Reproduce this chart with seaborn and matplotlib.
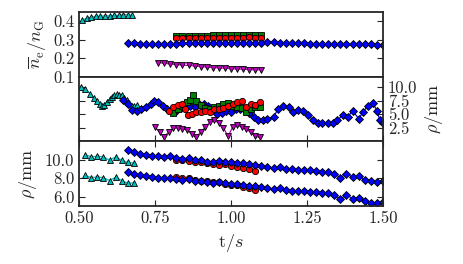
import matplotlib
matplotlib.use("Agg")
import matplotlib.pyplot as plt
from matplotlib.ticker import FormatStrFormatter
import seaborn as sns

sns.set_style("ticks", {"xtick.direction": "in", "ytick.direction": "in"})
plt.rcParams["font.family"] = "serif"
plt.rcParams["font.serif"] = ["cmr10"]
plt.rcParams["mathtext.fontset"] = "cm"
plt.rcParams["axes.formatter.use_mathtext"] = True
plt.rcParams["axes.linewidth"] = 1.3

# ---- panel 1: density n_e / n_G ----
t_teal1 = [0.51, 0.525, 0.54, 0.555, 0.57, 0.585, 0.60, 0.615, 0.63, 0.645, 0.66, 0.675]
n_teal1 = [0.404, 0.416, 0.422, 0.426, 0.428, 0.428, 0.429, 0.431, 0.431, 0.435, 0.434, 0.431]

t_blue1 = [0.66, 0.68, 0.70, 0.72, 0.74, 0.76, 0.78, 0.80, 0.82, 0.84, 0.86, 0.88, 0.90,
           0.92, 0.94, 0.96, 0.98, 1.00, 1.02, 1.04, 1.06, 1.08, 1.10, 1.12, 1.14, 1.16,
           1.18, 1.20, 1.22, 1.24, 1.26, 1.28, 1.30, 1.32, 1.34, 1.36, 1.38, 1.40, 1.42,
           1.44, 1.46, 1.48, 1.50]
n_blue1 = [0.279, 0.279, 0.278, 0.278, 0.278, 0.277, 0.274, 0.277, 0.278, 0.279,
           0.280, 0.280, 0.281, 0.281, 0.282, 0.282, 0.281, 0.281, 0.282, 0.283,
           0.283, 0.284, 0.284, 0.286, 0.285, 0.284, 0.283, 0.281, 0.280, 0.279,
           0.278, 0.278, 0.277, 0.277, 0.278, 0.278, 0.277, 0.276, 0.276, 0.275,
           0.274, 0.272, 0.269]

t_rg1 = [0.82, 0.84, 0.86, 0.88, 0.90, 0.92, 0.94, 0.96, 0.98, 1.00, 1.02, 1.04, 1.06, 1.08, 1.10]
n_green1 = [0.321, 0.322, 0.322, 0.321, 0.322, 0.322, 0.323, 0.323, 0.324, 0.323, 0.324, 0.325, 0.325, 0.324, 0.324]
n_red1 = [0.308, 0.309, 0.308, 0.309, 0.309, 0.310, 0.309, 0.310, 0.311, 0.310, 0.311, 0.311, 0.312, 0.311, 0.311]

t_mag1 = [0.76, 0.78, 0.80, 0.82, 0.84, 0.86, 0.88, 0.90, 0.92, 0.94, 0.96, 0.98,
          1.00, 1.02, 1.04, 1.06, 1.08, 1.10]
n_mag1 = [0.176, 0.172, 0.168, 0.165, 0.162, 0.160, 0.157, 0.154, 0.151, 0.149,
          0.147, 0.145, 0.143, 0.141, 0.140, 0.138, 0.137, 0.136]

# ---- panel 2: rho / mm (fluctuating) ----
t_teal2 = [0.505, 0.52, 0.536, 0.548, 0.558, 0.567, 0.575, 0.583, 0.59, 0.60, 0.607,
           0.616, 0.624, 0.632, 0.64, 0.648, 0.657, 0.665, 0.673, 0.681, 0.69]
r_teal2 = [10.0, 9.7, 8.8, 8.1, 7.5, 7.0, 6.6, 6.8, 7.25, 7.8, 8.2,
           8.5, 8.7, 8.6, 8.5, 8.1, 7.6, 7.1, 6.6, 6.6, 6.7]

t_blue2 = [0.645, 0.66, 0.675, 0.69, 0.705, 0.72, 0.735, 0.745, 0.76, 0.775, 0.79,
           0.805, 0.82, 0.835, 0.85, 0.865, 0.88, 0.895, 0.91, 0.925, 0.94, 0.955,
           0.97, 0.985, 1.0, 1.015, 1.03, 1.045, 1.06, 1.075, 1.09, 1.105, 1.12,
           1.14, 1.155, 1.17, 1.19, 1.205, 1.22, 1.237, 1.255, 1.27, 1.287, 1.30,
           1.32, 1.336, 1.35, 1.37, 1.385, 1.40, 1.42, 1.435, 1.45, 1.467, 1.48,
           1.49, 1.50]
r_blue2 = [7.6, 6.9, 5.8, 5.7, 6.0, 6.3, 6.9, 7.4, 7.2, 6.6, 6.0,
           5.4, 5.6, 6.1, 6.6, 6.5, 6.3, 6.9, 7.0, 6.6, 5.8, 5.1,
           5.3, 5.7, 5.4, 5.9, 6.0, 5.8, 5.2, 4.5, 3.9, 3.9, 4.2,
           4.5, 6.0, 6.6, 6.3, 5.4, 5.85, 5.6, 4.8, 3.9, 3.4, 3.4,
           3.3, 3.3, 4.0, 4.8, 4.5, 5.7, 4.2, 5.4, 6.6, 7.1, 5.7,
           3.9, 3.3]

t_red2 = [0.795, 0.81, 0.825, 0.84, 0.85, 0.858, 0.87, 0.885, 0.90, 0.915, 0.93,
          0.945, 0.96, 0.975, 0.99, 1.005, 1.02, 1.035, 1.05, 1.065, 1.08, 1.095]
r_red2 = [5.7, 6.3, 6.8, 7.0, 6.0, 4.8, 5.1, 5.4, 5.5, 5.7, 5.4,
          5.9, 6.0, 6.1, 6.5, 7.0, 7.3, 7.4, 6.3, 7.0, 6.8, 7.3]

t_green2 = [0.81, 0.825, 0.84, 0.855, 0.865, 0.875, 0.885, 0.90, 0.915, 0.93, 0.945,
            0.96, 0.975, 0.99, 1.005, 1.02, 1.035, 1.05, 1.065, 1.08, 1.095]
r_green2 = [5.3, 5.9, 6.6, 7.3, 7.6, 8.5, 7.5, 6.8, 6.2, 6.0, 6.3,
            6.6, 7.0, 7.1, 6.6, 6.3, 6.1, 5.4, 5.9, 6.3, 6.3]

t_mag2 = [0.75, 0.765, 0.78, 0.795, 0.81, 0.825, 0.84, 0.855, 0.87, 0.885, 0.90, 0.915,
          0.93, 0.945, 0.96, 0.975, 0.99, 1.005, 1.02, 1.035, 1.05, 1.065, 1.08, 1.095]
r_mag2 = [2.6, 1.7, 0.7, 1.8, 2.4, 2.5, 2.3, 2.1, 1.4, 0.7, 1.7, 2.6,
          3.5, 3.9, 3.4, 2.5, 0.9, 2.6, 3.0, 2.6, 2.2, 1.7, 0.9, 0.7]

# ---- panel 3: rho / mm (two radii) ----
t_teal3 = [0.52, 0.54, 0.56, 0.58, 0.60, 0.62, 0.64, 0.66, 0.68]
r_teal3_out = [10.55, 10.3, 10.4, 10.3, 9.95, 10.3, 9.95, 9.7, 9.65]
r_teal3_in = [8.3, 8.05, 8.15, 8.05, 7.75, 8.1, 7.75, 7.45, 7.5]

t_blue3 = t_blue1
r_blue3_out = [11.0, 10.8, 10.6, 10.5, 10.45, 10.35, 10.3, 10.35, 10.2, 10.1,
               10.15, 10.0, 9.95, 9.8, 9.75, 9.9, 9.8, 9.7, 9.65, 9.6,
               9.5, 9.45, 9.3, 9.2, 9.1, 9.2, 9.0, 8.95, 8.9, 8.9,
               8.85, 8.8, 8.7, 8.65, 8.5, 8.05, 8.5, 8.1, 8.2, 7.8,
               7.65, 7.6, 7.7]
r_blue3_in = [8.65, 8.45, 8.3, 8.2, 8.15, 8.05, 8.0, 8.05, 7.9, 7.85,
              7.9, 7.75, 7.7, 7.55, 7.5, 7.6, 7.5, 7.4, 7.35, 7.3,
              7.2, 7.15, 7.0, 6.9, 6.8, 6.9, 6.7, 6.65, 6.6, 6.6,
              6.55, 6.5, 6.4, 6.35, 6.2, 5.75, 6.2, 5.8, 5.9, 5.5,
              5.35, 5.3, 5.4]

t_red3 = [0.82, 0.84, 0.86, 0.88, 0.90, 0.92, 0.94, 0.96, 0.98, 1.00, 1.02, 1.04, 1.06, 1.08]
r_red3_out = [10.0, 9.95, 9.9, 9.8, 9.7, 9.65, 9.5, 9.45, 9.5, 9.3, 9.25, 9.1, 9.0, 8.8]
r_red3_in = [8.1, 8.0, 8.0, 7.85, 7.75, 7.65, 7.55, 7.6, 7.35, 7.25, 7.3, 7.0, 6.9, 6.75]

x_ticks = [0.5, 0.75, 1.0, 1.25, 1.5]


def draw(ax, t, v, color, marker, ms=4.5):
    sns.lineplot(x=t, y=v, ax=ax, color=color, marker=marker, markersize=ms,
                 markeredgecolor="k", markeredgewidth=0.6, linewidth=0.9,
                 errorbar=None, legend=False)


fig, (ax1, ax2, ax3) = plt.subplots(3, 1, sharex=True, figsize=(4.63, 2.64), dpi=100)
fig.subplots_adjust(left=0.171, right=0.827, top=0.955, bottom=0.22, hspace=0)

draw(ax1, t_teal1, n_teal1, "c", "^")
draw(ax1, t_rg1, n_green1, "g", "s")
draw(ax1, t_rg1, n_red1, "r", "o")
draw(ax1, t_mag1, n_mag1, "m", "v")
draw(ax1, t_blue1, n_blue1, "b", "D", 4.4)

draw(ax2, t_teal2, r_teal2, "c", "^")
draw(ax2, t_blue2, r_blue2, "b", "D", 4.4)
draw(ax2, t_green2, r_green2, "g", "s")
draw(ax2, t_red2, r_red2, "r", "o")
draw(ax2, t_mag2, r_mag2, "m", "v")

draw(ax3, t_teal3, r_teal3_out, "c", "^")
draw(ax3, t_teal3, r_teal3_in, "c", "^")
draw(ax3, t_red3, r_red3_out, "r", "o")
draw(ax3, t_red3, r_red3_in, "r", "o")
draw(ax3, t_blue3, r_blue3_out, "b", "D", 4.4)
draw(ax3, t_blue3, r_blue3_in, "b", "D", 4.4)

ax3.set_xlim(0.5, 1.5)
ax3.set_xticks(x_ticks)
ax3.xaxis.set_major_formatter(FormatStrFormatter("%.2f"))

ax1.set_ylim(0.1, 0.45)
ax1.set_yticks([0.1, 0.2, 0.3, 0.4])
ax1.yaxis.set_major_formatter(FormatStrFormatter("%.1f"))
ax1.tick_params(axis="x", bottom=False, top=False, labelbottom=False)
ax1.set_ylabel(r"$\overline{n}_\mathrm{e}/n_\mathrm{G}$", fontsize=13)

ax2.set_ylim(0, 12)
ax2.set_yticks([2.5, 5.0, 7.5, 10.0])
ax2.yaxis.set_major_formatter(FormatStrFormatter("%.1f"))
ax2.tick_params(axis="x", bottom=True, top=False, labelbottom=False)
ax2.tick_params(axis="y", labelleft=False, labelright=True)
ax2.yaxis.set_label_position("right")
ax2.set_ylabel(r"$\rho/\mathrm{mm}$", fontsize=13)

ax3.set_ylim(5, 12)
ax3.set_yticks([6.0, 8.0, 10.0])
ax3.yaxis.set_major_formatter(FormatStrFormatter("%.1f"))
ax3.tick_params(axis="x", bottom=True, top=True)
ax3.set_ylabel(r"$\rho/\mathrm{mm}$", fontsize=13)
ax3.set_xlabel(r"$\mathrm{t}/s$", fontsize=13)

for ax in (ax1, ax2, ax3):
    ax.tick_params(axis="y", left=True, right=True)
    ax.tick_params(direction="in", length=4.5, width=0.8, labelsize=12)
    for s in ax.spines.values():
        s.set_visible(True)
        s.set_linewidth(1.3)

fig.savefig("out.png", dpi=100)
